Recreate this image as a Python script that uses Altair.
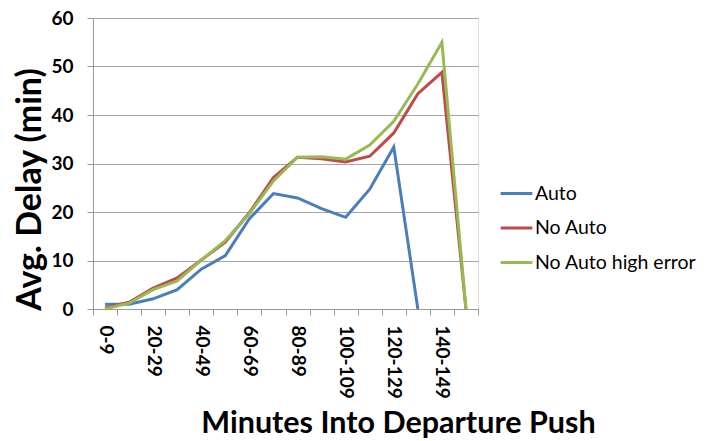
import altair as alt
import pandas as pd

categories = ["0-9", "10-19", "20-29", "30-39", "40-49", "50-59", "60-69", "70-79",
              "80-89", "90-99", "100-109", "110-119", "120-129", "130-139", "140-149", "150-159"]
auto = [1.0, 1.0, 2.1, 4.0, 8.2, 11.0, 18.6, 23.8, 22.9, 20.7, 18.9, 24.7, 33.4, 0.0, None, None]
no_auto = [0.2, 1.4, 4.3, 6.4, 10.1, 13.8, 19.9, 27.1, 31.3, 31.0, 30.3, 31.5, 36.3, 44.4, 48.8, 0.0]
no_auto_high = [0.0, 1.2, 4.0, 5.8, 10.1, 14.1, 19.7, 26.4, 31.3, 31.4, 30.9, 33.8, 38.7, 46.4, 55.0, 0.0]

series_names = ["Auto", "No Auto", "No Auto high error"]
series_colors = ["#4A7EBB", "#BE4B48", "#98B954"]

rows = []
for name, vals in zip(series_names, [auto, no_auto, no_auto_high]):
    for i, v in enumerate(vals):
        if v is not None:
            rows.append({"idx": i, "cat": categories[i], "series": name, "value": v})
df = pd.DataFrame(rows)

n = len(categories)
tick_vals = [i - 0.5 for i in range(n + 1)]
lab_arr = "[" + ",".join("'" + (c if i % 2 == 0 else "") + "'" for i, c in enumerate(categories)) + ",'']"
label_expr = f"{lab_arr}[round(datum.value + 0.5)]"

FONT = "Lato"

chart = alt.Chart(df).mark_line(strokeWidth=3).encode(
    x=alt.X("idx:Q", scale=alt.Scale(domain=[-0.5, n - 0.5], nice=False, zero=False),
            axis=alt.Axis(values=tick_vals, labelExpr=label_expr, labelAngle=90,
                          labelAlign="left", labelBaseline="middle", labelOffset=12,
                          labelPadding=10, labelFontSize=19, labelFontWeight="bold",
                          labelColor="black", labelFont=FONT, labelFlush=False,
                          labelOverlap=False, tickSize=6, tickColor="#999999",
                          domainColor="#999999", grid=False,
                          title="Minutes Into Departure Push", titleFont=FONT,
                          titleFontSize=30.5, titleFontWeight="bold", titleColor="black",
                          titleX=305, titleY=123, titleAlign="center",
                          titleBaseline="alphabetic")),
    y=alt.Y("value:Q", scale=alt.Scale(domain=[0, 60], nice=False),
            axis=alt.Axis(values=[0, 10, 20, 30, 40, 50, 60], grid=True,
                          gridColor="#A6A6A6", domainColor="#999999", tickColor="#999999",
                          tickSize=6, labelPadding=14, labelFontSize=19,
                          labelFontWeight="bold", labelColor="black", labelFont=FONT,
                          title="Avg. Delay  (min)", titleFont=FONT, titleFontSize=34,
                          titleFontWeight="bold", titleColor="black", titleAngle=270,
                          titleX=-53, titleY=171, titleAlign="center",
                          titleBaseline="alphabetic")),
    color=alt.Color("series:N",
                    scale=alt.Scale(domain=series_names, range=series_colors),
                    legend=alt.Legend(title=None, orient="none", legendX=406, legendY=158,
                                      symbolType="stroke", symbolSize=1000,
                                      symbolStrokeWidth=3, labelFontSize=19.5,
                                      labelFont=FONT, labelColor="black", labelOffset=1,
                                      labelLimit=0, rowPadding=7.5)),
).properties(
    width=385, height=291,
    autosize=alt.AutoSizeParams(type="none"),
    padding={"left": 85, "top": 10, "right": 220, "bottom": 132},
).configure_view(stroke=None).configure(background="white")

chart.save("out.html", embed_options={"renderer": "svg", "actions": False})
